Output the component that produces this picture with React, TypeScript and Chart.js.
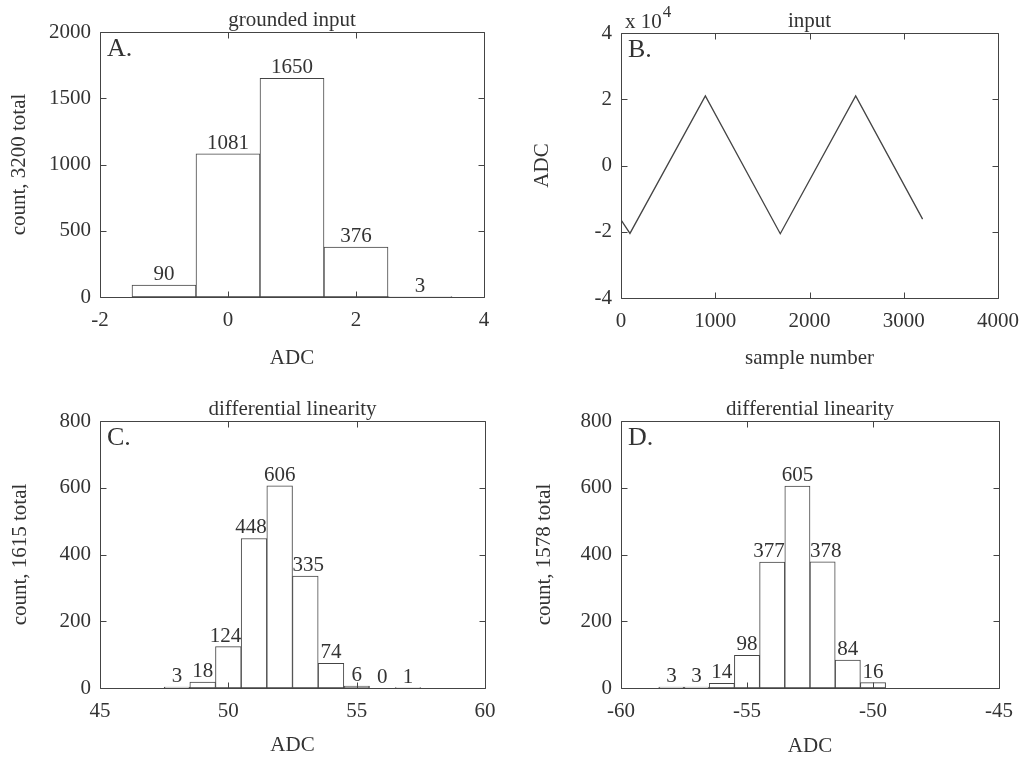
import React, { useEffect, useRef } from "react";
import { Chart, registerables } from "chart.js";

Chart.register(...registerables);

// ---------- data ----------
// Panel A: grounded input histogram
const adcA = [-1, 0, 1, 2, 3];
const countsA = [90, 1081, 1650, 376, 3];
const xRangeA = [-2, 4, 2];
const yRangeA = [0, 2000, 500];

// Panel B: input triangle wave
const sampleB = [0, 95, 895, 1690, 2490, 3200];
const adcB = [-16400, -20500, 21000, -20600, 21000, -16200];
const xRangeB = [0, 4000, 1000];
const yRangeB = [-40000, 40000, 20000];

// Panel C: differential linearity
const adcC = [48, 49, 50, 51, 52, 53, 54, 55, 56, 57];
const countsC = [3, 18, 124, 448, 606, 335, 74, 6, 0, 1];
const xRangeC = [45, 60, 5];
const yRangeC = [0, 800, 200];

// Panel D: differential linearity
const adcD = [-58, -57, -56, -55, -54, -53, -52, -51, -50];
const countsD = [3, 3, 14, 98, 377, 605, 378, 84, 16];
const xRangeD = [-60, -45, 5];
const yRangeD = [0, 800, 200];

const panelTitles = ["grounded input", "input", "differential linearity", "differential linearity"];
const panelLetters = ["A.", "B.", "C.", "D."];
const xTitles = ["ADC", "sample number", "ADC", "ADC"];
const yTitles = ["count, 3200 total", "ADC", "count, 1615 total", "count, 1578 total"];

// ---------- styling ----------
const FONT = "'Liberation Serif', 'Times New Roman', serif";
const FS = 21;
const TEXT = "#333";
const LINE = "#444";
const TICK_LEN = 6;

const annotatePlugin = {
  id: "annotate",
  afterDraw(chart: any) {
    const o = chart.options.plugins.annotate || {};
    const { ctx, chartArea: ca } = chart;
    const xs = chart.scales.x;
    const ys = chart.scales.y;
    const L = Math.round(ca.left) + 0.5;
    const R = Math.round(ca.right) + 0.5;
    const T = Math.round(ca.top) + 0.5;
    const B = Math.round(ca.bottom) + 0.5;
    ctx.save();
    ctx.strokeStyle = LINE;
    ctx.lineWidth = 1;
    ctx.beginPath();
    ctx.rect(L, T, R - L, B - T);
    xs.ticks.forEach((t: any) => {
      const p = Math.round(xs.getPixelForValue(t.value)) + 0.5;
      ctx.moveTo(p, B);
      ctx.lineTo(p, B - TICK_LEN);
      ctx.moveTo(p, T);
      ctx.lineTo(p, T + TICK_LEN);
    });
    ys.ticks.forEach((t: any) => {
      const p = Math.round(ys.getPixelForValue(t.value)) + 0.5;
      ctx.moveTo(L, p);
      ctx.lineTo(L + TICK_LEN, p);
      ctx.moveTo(R, p);
      ctx.lineTo(R - TICK_LEN, p);
    });
    ctx.stroke();

    ctx.fillStyle = TEXT;
    // bar value labels
    if (o.barLabels) {
      const meta = chart.getDatasetMeta(0);
      const data = chart.data.datasets[0].data;
      ctx.font = `${FS}px ${FONT}`;
      ctx.textAlign = "center";
      ctx.textBaseline = "alphabetic";
      meta.data.forEach((el: any, i: number) => {
        const v = data[i].y;
        const txt = String(v);
        const w = ctx.measureText(txt).width;
        const half = w / 2;
        const bl = el.x - el.width / 2;
        const br = el.x + el.width / 2;
        let cx = el.x;
        const left = i > 0 ? data[i - 1].y : -1;
        const right = i < data.length - 1 ? data[i + 1].y : -1;
        if (right > v && cx + half > br) cx = br - half;
        if (left > v && cx - half < bl) cx = bl + half;
        ctx.fillText(txt, cx, el.y - 5);
      });
    }
    // title
    ctx.font = `${FS}px ${FONT}`;
    ctx.textAlign = "center";
    ctx.textBaseline = "alphabetic";
    ctx.fillText(o.title, (ca.left + ca.right) / 2, ca.top - 6);
    // panel letter
    ctx.font = `26px ${FONT}`;
    ctx.textAlign = "left";
    ctx.fillText(o.letter, ca.left + 7, ca.top + 24);
    // exponent
    if (o.exponent) {
      ctx.font = `${FS}px ${FONT}`;
      const base = "x 10";
      ctx.fillText(base, ca.left + 4, ca.top - 5);
      const w = ctx.measureText(base).width;
      ctx.font = `17px ${FONT}`;
      ctx.fillText(o.exponent, ca.left + 4 + w + 1, ca.top - 16);
    }
    ctx.restore();
  },
};

type Geom = {
  left: number;
  top: number;
  w: number;
  h: number;
  yw: number;
  xh: number;
  padTop: number;
  padRight: number;
  ytp: number;
  xtp: number;
};

const geoms: Geom[] = [
  { left: 0, top: 0, w: 517, h: 379, yw: 100, xh: 82, padTop: 32, padRight: 33, ytp: 7, xtp: 8 },
  { left: 517, top: 0, w: 517, h: 379, yw: 104, xh: 81, padTop: 33, padRight: 36, ytp: 13, xtp: 8 },
  { left: 0, top: 379, w: 517, h: 380, yw: 100, xh: 71, padTop: 42, padRight: 32, ytp: 8, xtp: 1 },
  { left: 517, top: 379, w: 517, h: 380, yw: 104, xh: 71, padTop: 42, padRight: 35, ytp: 15, xtp: 0 },
];

function makeScales(g: Geom, xr: number[], yr: number[], xTitle: string, yTitle: string, yCb?: (v: number) => string) {
  const font = { family: FONT, size: FS };
  return {
    x: {
      type: "linear",
      min: xr[0],
      max: xr[1],
      offset: false,
      afterFit: (s: any) => {
        s.height = g.xh;
      },
      ticks: {
        stepSize: xr[2],
        color: TEXT,
        font,
        padding: 11,
        autoSkip: false,
        maxRotation: 0,
        callback: (v: any) => String(v),
      },
      grid: { display: false, drawTicks: false, offset: false },
      border: { display: false },
      title: { display: true, text: xTitle, color: TEXT, font, padding: { top: 0, bottom: g.xtp } },
    },
    y: {
      type: "linear",
      min: yr[0],
      max: yr[1],
      afterFit: (s: any) => {
        s.width = g.yw;
      },
      ticks: {
        stepSize: yr[2],
        color: TEXT,
        font,
        padding: 9,
        callback: yCb ? (v: any) => yCb(Number(v)) : (v: any) => String(v),
      },
      grid: { display: false, drawTicks: false },
      border: { display: false },
      title: { display: true, text: yTitle, color: TEXT, font, padding: { top: g.ytp, bottom: 0 } },
    },
  };
}

function baseOptions(g: Geom, idx: number, scales: any, extra: any) {
  return {
    responsive: false,
    animation: false,
    events: [],
    devicePixelRatio: 1,
    layout: { padding: { top: g.padTop, right: g.padRight, left: 0, bottom: 0 } },
    scales,
    plugins: {
      legend: { display: false },
      tooltip: { enabled: false },
      annotate: { title: panelTitles[idx], letter: panelLetters[idx], ...extra },
    },
  };
}

function histConfig(idx: number, xs: number[], counts: number[], xr: number[], yr: number[]) {
  const g = geoms[idx];
  return {
    type: "bar",
    data: {
      datasets: [
        {
          data: xs.map((x, i) => ({ x, y: counts[i] })),
          backgroundColor: "#ffffff",
          borderColor: LINE,
          borderWidth: 1,
          borderSkipped: false,
          barPercentage: 1,
          categoryPercentage: 1,
        },
      ],
    },
    options: baseOptions(g, idx, makeScales(g, xr, yr, xTitles[idx], yTitles[idx]), { barLabels: true }),
    plugins: [annotatePlugin],
  };
}

function lineConfig(idx: number) {
  const g = geoms[idx];
  return {
    type: "line",
    data: {
      datasets: [
        {
          data: sampleB.map((x, i) => ({ x, y: adcB[i] })),
          borderColor: LINE,
          borderWidth: 1.3,
          pointRadius: 0,
          fill: false,
          tension: 0,
        },
      ],
    },
    options: baseOptions(
      g,
      idx,
      makeScales(g, xRangeB, yRangeB, xTitles[idx], yTitles[idx], (v) => String(v / 10000)),
      { exponent: "4" }
    ),
    plugins: [annotatePlugin],
  };
}

function Panel({ idx, config }: { idx: number; config: any }) {
  const ref = useRef<HTMLCanvasElement | null>(null);
  const g = geoms[idx];
  useEffect(() => {
    if (!ref.current) return;
    const chart = new Chart(ref.current, config);
    return () => chart.destroy();
  }, []);
  return (
    <canvas
      ref={ref}
      width={g.w}
      height={g.h}
      style={{ position: "absolute", left: g.left, top: g.top, width: g.w, height: g.h }}
    />
  );
}

export default function App() {
  return (
    <div style={{ position: "absolute", left: 0, top: 0, width: 1034, height: 759, background: "#fff", overflow: "hidden" }}>
      <Panel idx={0} config={histConfig(0, adcA, countsA, xRangeA, yRangeA)} />
      <Panel idx={1} config={lineConfig(1)} />
      <Panel idx={2} config={histConfig(2, adcC, countsC, xRangeC, yRangeC)} />
      <Panel idx={3} config={histConfig(3, adcD, countsD, xRangeD, yRangeD)} />
    </div>
  );
}
